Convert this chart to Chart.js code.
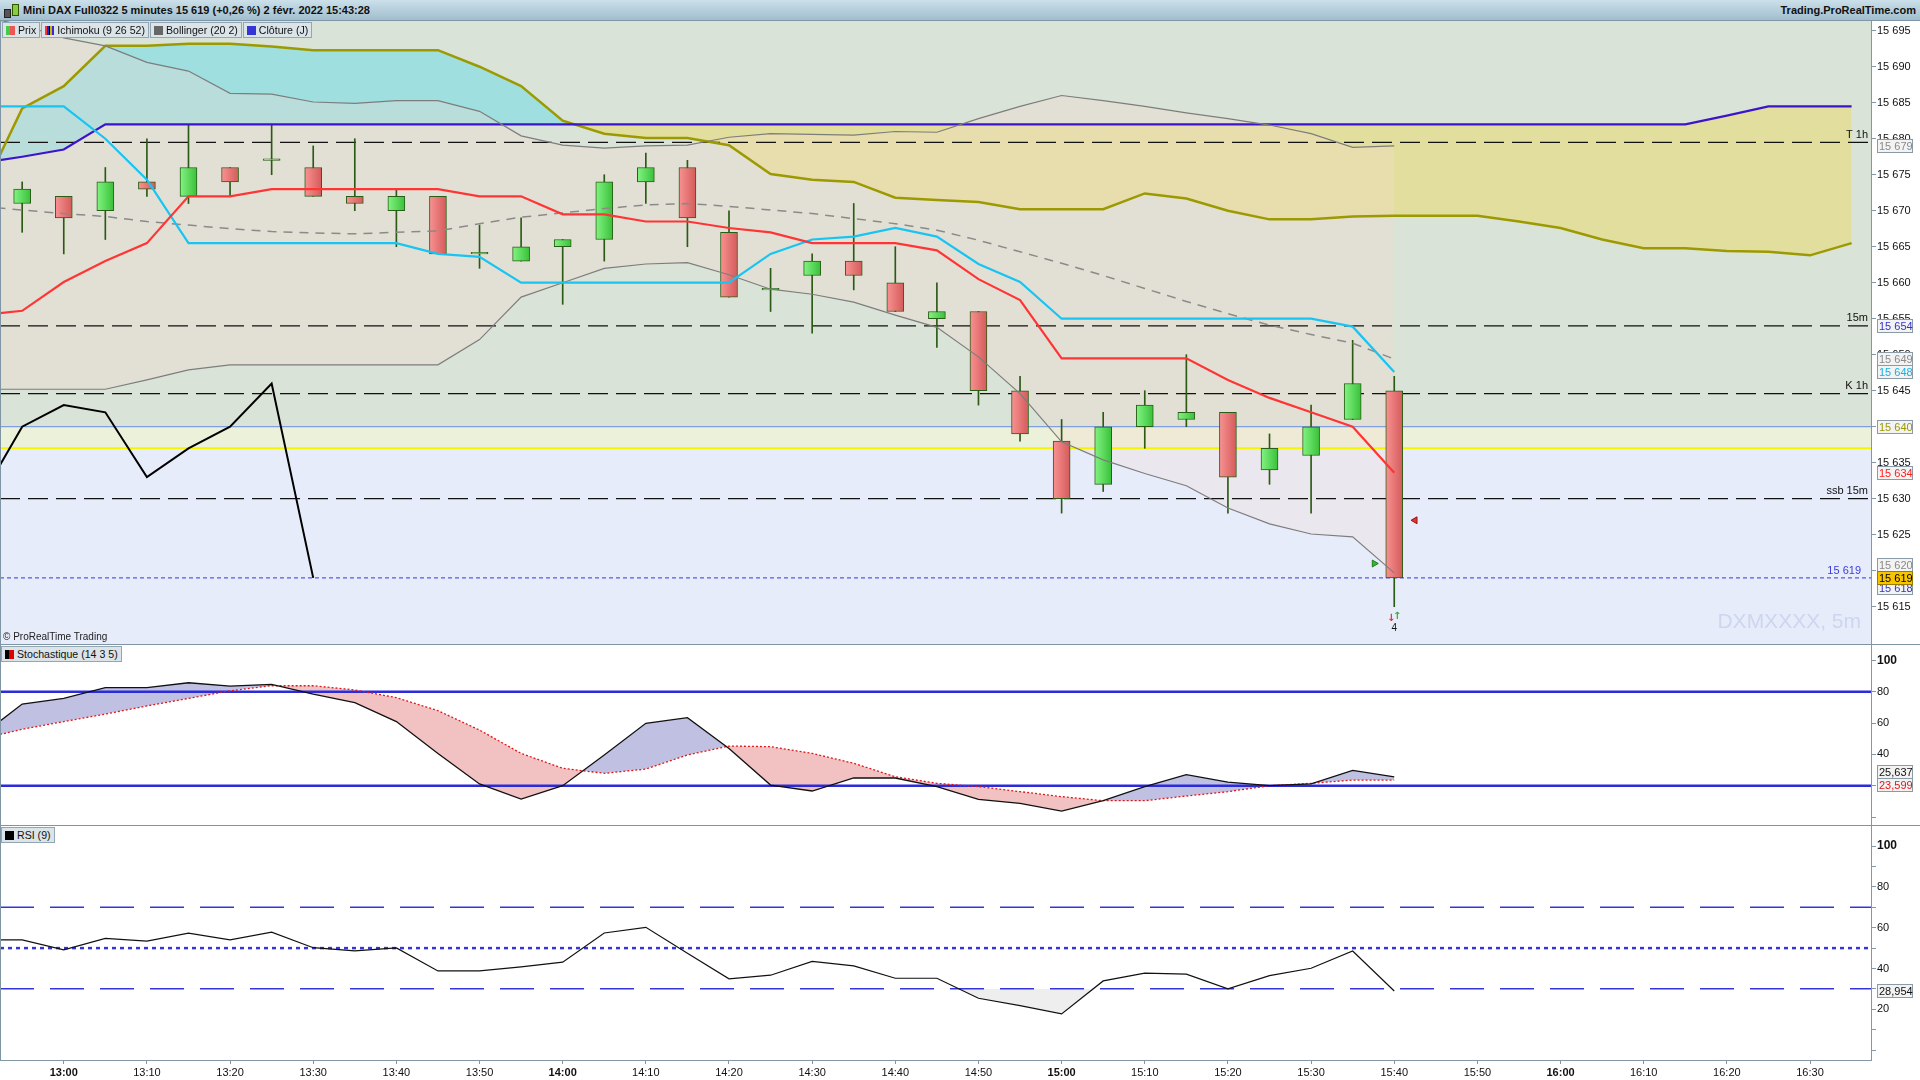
<!DOCTYPE html>
<html lang="fr">
<head>
<meta charset="utf-8">
<title>Mini DAX Full0322 - 5 minutes</title>
<script src="https://cdn.jsdelivr.net/npm/chart.js@4.4.1/dist/chart.umd.min.js"></script>
<style>
  html, body { margin: 0; padding: 0; background: #fff; }
  body { width: 1920px; height: 1080px; position: relative; overflow: hidden;
         font-family: "Liberation Sans", Arial, sans-serif; color: #111; }
  canvas { position: absolute; left: 0; display: block; }
  #header { position: absolute; left: 0; top: 0; width: 1920px; height: 21px;
            background: linear-gradient(#cbe0ea, #a1bece); border-bottom: 1px solid #7d97a7;
            box-sizing: border-box; font-size: 11px; font-weight: bold; line-height: 20px; }
  #header .title { position: absolute; left: 23px; top: 0; }
  #header .site { position: absolute; right: 4px; top: 0; }
  .ico { position: absolute; }
  .tags { position: absolute; left: 2px; top: 22px; display: flex; gap: 1px; }
  .tag { position: relative; height: 16px; line-height: 15px; font-size: 10.6px; background: #dbe4e9;
         border: 1px solid #93a6b3; box-sizing: border-box; padding: 0 3px 0 15px; white-space: nowrap; }
  .tag i { position: absolute; left: 3px; top: 3px; width: 9px; height: 9px; }
  .sep { position: absolute; left: 0; width: 1920px; height: 1px; background: #7f95a4; }
  .vsep { position: absolute; top: 21px; width: 1px; height: 1039px; background: #7f95a4; }
  #wm { position: absolute; right: 59px; top: 609px; font-size: 21px; color: #cdd6ee; }
  #copy { position: absolute; left: 3px; top: 631px; font-size: 10px; color: #222; }
</style>
</head>
<body>
<canvas id="price" width="1920" height="623" style="top:21px"></canvas>
<canvas id="stoch" width="1920" height="180" style="top:645px"></canvas>
<canvas id="rsi" width="1920" height="254" style="top:826px"></canvas>

<div id="header">
  <div class="ico" style="left:4px;top:9px;width:5px;height:7px;background:#555;border:1px solid #222"></div>
  <div class="ico" style="left:12px;top:4px;width:5px;height:10px;background:#8c4;border:1px solid #350"></div>
  <span class="title">Mini DAX Full0322 5 minutes 15 619 (+0,26 %) 2 févr. 2022 15:43:28</span>
  <span class="site">Trading.ProRealTime.com</span>
</div>
<div class="vsep" style="left:0"></div>
<div class="tags">
  <div class="tag"><i style="background:linear-gradient(90deg,#44cc44 50%,#ee5555 50%)"></i>Prix</div>
  <div class="tag"><i style="background:linear-gradient(90deg,#ff3333 0 20%,#1133cc 20% 40%,#000 40% 60%,#c9b800 60% 80%,#4422cc 80%)"></i>Ichimoku (9 26 52)</div>
  <div class="tag"><i style="background:#666"></i>Bollinger (20 2)</div>
  <div class="tag"><i style="background:#3535d8"></i>Clôture (J)</div>
</div>
<div id="wm">DXMXXXX, 5m</div>
<div id="copy">© ProRealTime Trading</div>
<div class="sep" style="top:644px"></div>
<div class="tags" style="top:646px;left:1px">
  <div class="tag"><i style="background:linear-gradient(90deg,#000 50%,#dd0000 50%)"></i>Stochastique (14 3 5)</div>
</div>
<div class="sep" style="top:825px"></div>
<div class="tags" style="top:827px;left:1px">
  <div class="tag"><i style="background:#000"></i>RSI (9)</div>
</div>

<script>
// ---------- data ----------
const times = ['12:50','12:55','13:00','13:05','13:10','13:15','13:20','13:25','13:30','13:35','13:40',
  '13:45','13:50','13:55','14:00','14:05','14:10','14:15','14:20','14:25','14:30','14:35','14:40',
  '14:45','14:50','14:55','15:00','15:05','15:10','15:15','15:20','15:25','15:30','15:35','15:40'];
const futureTimes = ['15:45','15:50','15:55','16:00','16:05','16:10','16:15','16:20','16:25','16:30','16:35'];

const opens  = [null, 15671, 15672, 15670, 15674, 15672, 15676, 15677, 15676, 15672, 15670, 15672, 15664,
  15663, 15665, 15666, 15674, 15676, 15667, 15659, 15661, 15663, 15660, 15655, 15656, 15645, 15638,
  15632, 15640, 15641, 15642, 15634, 15636, 15641, 15645];
const highs  = [null, 15674, 15672, 15676, 15680, 15682, 15676, 15682, 15679, 15680, 15673, 15672, 15668,
  15669, 15666, 15675, 15678, 15677, 15670, 15662, 15664, 15671, 15665, 15660, 15656, 15647, 15641,
  15642, 15645, 15650, 15642, 15639, 15643, 15652, 15647];
const lows   = [null, 15667, 15664, 15666, 15672, 15671, 15672, 15675, 15672, 15670, 15665, 15664, 15662,
  15663, 15657, 15663, 15671, 15665, 15658, 15656, 15653, 15659, 15656, 15651, 15643, 15638, 15628,
  15631, 15637, 15640, 15628, 15632, 15628, 15641, 15615];
const closes = [null, 15673, 15669, 15674, 15673, 15676, 15674, 15677, 15672, 15671, 15672, 15664, 15664,
  15665, 15666, 15674, 15676, 15669, 15658, 15659, 15663, 15661, 15656, 15656, 15645, 15639, 15630,
  15640, 15643, 15642, 15633, 15637, 15640, 15646, 15619];

const tenkan = [15655.5, 15656.1, 15660.1, 15663, 15665.5, 15672, 15672, 15673, 15673, 15673, 15673, 15673,
  15672, 15672, 15669.5, 15669.5, 15668.5, 15668.5, 15667.6, 15667, 15665.5, 15665.5, 15665.5, 15664.5,
  15660.5, 15657.6, 15649.5, 15649.5, 15649.5, 15649.5, 15646.5, 15644, 15642, 15640, 15633.6];
const kijun = [15684.5, 15684.5, 15684.5, 15680, 15674.3, 15665.5, 15665.5, 15665.5, 15665.5, 15665.5,
  15665.5, 15664, 15663.6, 15660, 15660, 15660, 15660, 15660, 15660, 15664, 15666, 15666.4, 15667.6,
  15666.4, 15662.6, 15660.1, 15655, 15655, 15655, 15655, 15655, 15655, 15655, 15653.9, 15647.6];
const chikou = [15630, 15640, 15643, 15642, 15633, 15637, 15640, 15646, 15619];
// senkou spans run 26 bars ahead: times + futureTimes
const senkouA = [15676.6, 15677.5, 15678.5, 15682, 15682, 15682, 15682, 15682, 15682, 15682, 15682, 15682,
  15682, 15682, 15682, 15682, 15682, 15682, 15682, 15682, 15682, 15682, 15682, 15682, 15682, 15682, 15682,
  15682, 15682, 15682, 15682, 15682, 15682, 15682, 15682, 15682, 15682, 15682, 15682, 15682, 15682, 15682,
  15683.2, 15684.5, 15684.5, 15684.5];
const senkouB = [15672.1, 15684.2, 15687.3, 15692.9, 15692.9, 15693.2, 15693.2, 15692.8, 15692.3, 15692.3,
  15692.3, 15692.3, 15690, 15687.3, 15682.5, 15680.7, 15680.1, 15680.1, 15679.1, 15675.1, 15674.3, 15674,
  15671.8, 15671.5, 15671.2, 15670.2, 15670.2, 15670.2, 15672.4, 15671.7, 15670, 15668.8, 15668.8, 15669.2,
  15669.3, 15669.3, 15669.3, 15668.5, 15667.6, 15666, 15664.8, 15664.8, 15664.4, 15664.3, 15663.8, 15665.5];

const bbUpper = [15697, 15695.8, 15694, 15692.9, 15690.6, 15689.4, 15686.3, 15686.2, 15685.1, 15684.9,
  15685.3, 15685.3, 15683.8, 15680.4, 15679.1, 15678.7, 15679, 15679.1, 15680.2, 15680.7, 15680.6, 15680.5,
  15681, 15680.9, 15682.8, 15684.5, 15686, 15685.3, 15684.5, 15683.6, 15682.8, 15681.9, 15680.7, 15678.8, 15679];
const bbMiddle = [15670.6, 15670.1, 15669.6, 15669.2, 15668.5, 15668, 15667.5, 15667.1, 15666.9, 15666.8,
  15667, 15667.2, 15668.2, 15669.1, 15669.7, 15670.3, 15670.8, 15671, 15670.6, 15670.1, 15669.6, 15668.9,
  15668.2, 15667.3, 15665.9, 15664.3, 15662.7, 15661, 15659.2, 15657.4, 15655.7, 15654.1, 15652.8, 15651.6, 15649.4];
const bbLower = [15645.2, 15645.2, 15645.2, 15645.2, 15646.5, 15647.9, 15648.6, 15648.6, 15648.6, 15648.6,
  15648.6, 15648.6, 15652.1, 15658, 15660, 15662, 15662.6, 15662.8, 15661.1, 15659.1, 15658.4, 15657.3,
  15655.5, 15653.8, 15649.7, 15644.6, 15637.9, 15635.4, 15633.5, 15631.8, 15628.7, 15626.5, 15625.1, 15624.7, 15619.7];

const stochK = [51.7, 72.1, 75.7, 82.6, 82.6, 85.7, 83.6, 84.7, 78.5, 73, 60.9, 40.6, 21.1, 11.5, 20, 39.6,
  59.8, 63.4, 43.8, 20.4, 16.6, 24.9, 24.9, 19.4, 11.3, 8.7, 3.8, 10.4, 19.4, 27, 22.3, 20, 21.1, 29.8, 25.637];
const stochD = [49.8, 56, 60.9, 65.7, 70.9, 75.7, 80.6, 83.8, 83.8, 81.1, 76.2, 67.9, 55.5, 40.6, 31.1, 27.9,
  30.6, 39.6, 45.3, 44.9, 40.6, 34.3, 25.7, 21.5, 19.4, 16.2, 13, 10.4, 10.4, 13.4, 16.2, 20, 21.5, 23.6, 23.599];
const rsi = [54, 54, 49.1, 54.8, 53.4, 57.3, 54, 57.8, 50.2, 48.6, 50.1, 38.8, 38.8, 40.8, 43.1, 57.4, 60.2,
  47.5, 34.9, 36.7, 43.5, 41.3, 35.2, 35.2, 25.4, 21.8, 17.7, 33.9, 37.7, 37.2, 30, 36.5, 40.1, 48.6, 28.954];

// horizontal levels
const levelValues = [15679.5, 15654, 15644.6, 15630];
const levelLabels = ['T 1h', '15m', 'K 1h', 'ssb 15m'];
const zoneLevels = [15640, 15637];
const lastClose = 15619;
const signalTimes = ['15:42:30', '15:37:36'];
const signalPrices = [15627, 15621];

// axis ticks and value tags
const priceTicks = [15615, 15620, 15625, 15630, 15635, 15640, 15645, 15650, 15655, 15660, 15665, 15670,
  15675, 15680, 15685, 15690, 15695];
const oscTicks = [0, 10, 20, 30, 40, 50, 60, 70, 80, 90, 100];
const oscLabels = [20, 40, 60, 80, 100];
const xTicks = ['13:00','13:10','13:20','13:30','13:40','13:50','14:00','14:10','14:20','14:30','14:40',
  '14:50','15:00','15:10','15:20','15:30','15:40','15:50','16:00','16:10','16:20','16:30'];
const priceTagValues = [15679, 15654, 15649.4, 15647.6, 15640, 15633.6, 15619.7, 15617.6, 15619];
const stochLevels = [80, 20];
const rsiLevels = [70, 50, 30];

// ---------- helpers ----------
const FONT = '"Liberation Sans", Arial, sans-serif';
const AXIS_GREY = '#8497a5';
function toMin(t) { const p = t.split(':').map(Number); return p[0] * 60 + p[1] + (p[2] || 0) / 60; }
function fmtPrice(v) { return String(Math.round(v)).replace(/\B(?=(\d{3})+(?!\d))/g, ' '); }
function fmtDec(v) { return v.toFixed(3).replace('.', ','); }
const X_MIN = toMin('12:52:20'), X_MAX = toMin('16:37:20');

function series(ts, ys) {
  return ys.map((v, i) => ({ x: toMin(ts[i]), y: v })).filter(p => p.y !== null && p.y !== undefined);
}
function line(data, color, width, extra) {
  return Object.assign({ type: 'line', data, borderColor: color, borderWidth: width, pointRadius: 0,
    tension: 0, fill: false }, extra || {});
}
function hLine(v, color, width, dash, order) {
  return line([{ x: X_MIN, y: v }, { x: X_MAX, y: v }], color, width, { borderDash: dash || [], order: order || 40 });
}

function xScale(show) {
  return {
    type: 'linear', min: X_MIN, max: X_MAX, offset: false, display: show,
    afterBuildTicks: s => { s.ticks = xTicks.map(t => ({ value: toMin(t) })); },
    afterFit: s => { if (show) s.height = 20; s.paddingLeft = 0; s.paddingRight = 0; },
    grid: { drawOnChartArea: false, tickLength: 4, color: AXIS_GREY },
    border: { color: AXIS_GREY },
    ticks: {
      autoSkip: false, maxRotation: 0, padding: 2, color: '#111',
      font: c => ({ family: FONT, size: 11, weight: c.tick && c.tick.value % 60 === 0 ? 'bold' : 'normal' }),
      callback: v => Math.floor(v / 60) + ':' + String(Math.round(v % 60)).padStart(2, '0')
    }
  };
}
function yScale(min, max, ticks, labelFn) {
  return {
    position: 'right', min, max,
    afterBuildTicks: s => { s.ticks = ticks.map(v => ({ value: v })); },
    afterFit: s => { s.width = 49; s.paddingTop = 0; s.paddingBottom = 0; },
    grid: { drawOnChartArea: false, tickLength: 5, color: AXIS_GREY },
    border: { color: AXIS_GREY },
    ticks: {
      padding: 1, color: '#111', callback: labelFn,
      font: c => (c.tick && c.tick.value === 100)
        ? { family: FONT, size: 12, weight: 'bold' } : { family: FONT, size: 11 }
    }
  };
}
function baseOptions(scales) {
  return {
    responsive: false, animation: false, devicePixelRatio: 1, events: [],
    layout: { padding: 0, autoPadding: false }, scales,
    plugins: { legend: { display: false }, tooltip: { enabled: false },
      filler: { propagate: false, drawTime: 'beforeDatasetsDraw' } }
  };
}

// value tags on the right axis, pushed apart when they overlap
function drawTags(chart, items) {
  const { ctx, chartArea: a, scales: { y } } = chart;
  const H = 14, GAP = 13;
  const list = items.map(it => Object.assign({}, it, { py: y.getPixelForValue(it.value) }))
    .sort((p, q) => p.py - q.py);
  const movable = list.filter(b => !b.pinned);
  for (let k = 0; k < 20; k++) {
    for (let i = 1; i < movable.length; i++) {
      const d = movable[i].py - movable[i - 1].py;
      if (d < GAP) {
        const o = GAP - d;
        if (movable[i - 1].main) movable[i].py += o;
        else if (movable[i].main) movable[i - 1].py -= o;
        else { movable[i - 1].py -= o / 2; movable[i].py += o / 2; }
      }
    }
  }
  ctx.save();
  ctx.font = '11px ' + FONT;
  ctx.textBaseline = 'middle';
  list.filter(b => !b.main).concat(list.filter(b => b.main)).forEach(b => {
    const x0 = a.right + 6, w = 36, top = Math.round(b.py - H / 2);
    ctx.fillStyle = b.bg || '#f3f3f3';
    ctx.fillRect(x0, top, w, H);
    ctx.strokeStyle = b.border || '#8a9aa6';
    ctx.lineWidth = 1;
    ctx.strokeRect(x0 + 0.5, top + 0.5, w - 1, H - 1);
    ctx.fillStyle = b.color;
    ctx.fillText(b.text, x0 + 2, top + H / 2 + 0.5);
  });
  ctx.restore();
}

// ---------- price panel ----------
const bodies = [], wicks = [];
times.forEach((t, i) => {
  if (opens[i] === null) return;
  bodies.push({ x: toMin(t), y: [opens[i], closes[i]], up: closes[i] >= opens[i] });
  wicks.push({ x: toMin(t), y: [lows[i], highs[i]] });
});
function bodyColor(c) {
  if (c.type !== 'data') return '#888';
  const b = bodies[c.dataIndex];
  const flat = b.up ? '#56d856' : '#ea7676';
  const xs = c.chart.scales.x;
  if (!xs) return flat;
  const px = xs.getPixelForValue(b.x);
  if (!isFinite(px)) return flat;
  const g = c.chart.ctx.createLinearGradient(px - 8, 0, px + 8, 0);
  if (b.up) { g.addColorStop(0, '#80f280'); g.addColorStop(1, '#3bc23b'); }
  else { g.addColorStop(0, '#f89090'); g.addColorStop(1, '#d55c5c'); }
  return g;
}

const cloudTimes = times.concat(futureTimes);
const pd = [];
const push = ds => { pd.push(ds); return pd.length - 1; };
levelValues.forEach(v => push(hLine(v, '#111', 1.3, [20, 8])));
push(hLine(zoneLevels[0], '#7f9fe0', 1.3));
push(hLine(zoneLevels[1], '#f5f500', 2));
push(hLine(lastClose, '#3535e0', 1, [4, 3]));
push({ type: 'bar', data: wicks, backgroundColor: '#2b5a14', barThickness: 1, grouped: false, order: 39 });
push({ type: 'bar', data: bodies, backgroundColor: bodyColor, borderColor: '#2a5e16', borderWidth: 1,
  borderSkipped: false, barThickness: 17, minBarLength: 1.5, grouped: false, order: 38 });
const iA = push(line(series(cloudTimes, senkouA), '#3c14cc', 2.2, { order: 30 }));
push(line(series(cloudTimes, senkouB), '#9c9a00', 2.5, { order: 31,
  fill: { target: iA, above: 'rgba(120,220,228,0.6)', below: 'rgba(232,220,120,0.6)' } }));
const iL = push(line(series(times, bbLower), '#7d7d7d', 1.2, { order: 29 }));
push(line(series(times, bbUpper), '#7d7d7d', 1.2, { order: 28,
  fill: { target: iL, above: 'rgba(245,217,207,0.3)', below: 'rgba(245,217,207,0.3)' } }));
push(line(series(times, bbMiddle), '#8a8a8a', 1.5, { borderDash: [9, 7], order: 27 }));
push(line(series(times, chikou), '#000', 2, { order: 22 }));
push(line(series(times, kijun), '#17c4f2', 2.2, { order: 21 }));
push(line(series(times, tenkan), '#ff3535', 2.2, { order: 20 }));
push({ type: 'line', data: series(signalTimes, signalPrices), showLine: false, pointStyle: 'triangle',
  pointRadius: 4, pointRotation: [-90, 90], pointBackgroundColor: ['#e03535', '#35b535'],
  pointBorderColor: ['#a01010', '#208020'], pointBorderWidth: 1, order: 10 });

const zonesPlugin = {
  id: 'zones',
  beforeDraw(chart) {
    const { ctx, chartArea: a, scales: { y } } = chart;
    const y1 = y.getPixelForValue(zoneLevels[0]), y2 = y.getPixelForValue(zoneLevels[1]);
    ctx.save();
    ctx.fillStyle = '#dae3d7'; ctx.fillRect(a.left, a.top, a.width, y1 - a.top);
    ctx.fillStyle = '#ecf1d9'; ctx.fillRect(a.left, y1, a.width, y2 - y1);
    ctx.fillStyle = '#e7ecfb'; ctx.fillRect(a.left, y2, a.width, a.bottom - y2);
    ctx.restore();
  }
};
const priceNotes = {
  id: 'priceNotes',
  afterDatasetsDraw(chart) {
    const { ctx, chartArea: a, scales: { x, y } } = chart;
    ctx.save();
    ctx.font = '11px ' + FONT;
    ctx.textAlign = 'right';
    ctx.textBaseline = 'bottom';
    ctx.fillStyle = '#111';
    levelValues.forEach((v, i) => ctx.fillText(levelLabels[i], a.right - 3, y.getPixelForValue(v) - 2));
    ctx.fillStyle = '#3b3bdd';
    ctx.fillText(fmtPrice(lastClose), a.right - 10, y.getPixelForValue(lastClose) - 1);
    const last = times.length - 1;
    const px = x.getPixelForValue(toMin(times[last])), py = y.getPixelForValue(lows[last]);
    ctx.textAlign = 'center';
    ctx.font = 'bold 10px "DejaVu Sans", sans-serif';
    ctx.fillStyle = '#e03030'; ctx.fillText('↓', px - 3, py + 17);
    ctx.fillStyle = '#2fb02f'; ctx.fillText('↑', px + 3, py + 15);
    ctx.font = '10px ' + FONT;
    ctx.fillStyle = '#111'; ctx.fillText('4', px, py + 27);
    ctx.restore();
  },
  afterDraw(chart) {
    const colors = ['#8a8a8a', '#3333cc', '#8a8a8a', '#12b4e6', '#9c9a00', '#ff2020', '#8a8a8a', '#3333cc', '#000'];
    drawTags(chart, priceTagValues.map((v, i) => ({
      value: v, text: fmtPrice(v), color: colors[i], main: v === lastClose, pinned: i === 7,
      bg: v === lastClose ? '#f7c500' : null, border: v === lastClose ? '#9a7a00' : null
    })));
  }
};

new Chart(document.getElementById('price'), {
  type: 'line',
  data: { datasets: pd },
  options: baseOptions({ x: xScale(false), y: yScale(15609.82, 15696.35, priceTicks, v => fmtPrice(v)) }),
  plugins: [zonesPlugin, priceNotes]
});

// ---------- stochastic panel ----------
const sd = [];
stochLevels.forEach(v => sd.push(hLine(v, '#2b2bd9', 2.5, [], 5)));
sd.push(line(series(times, stochD), '#e01818', 1.3, { borderDash: [2, 2], order: 3 }));
sd.push(line(series(times, stochK), '#111', 1.3, { order: 2,
  fill: { target: stochLevels.length, above: '#c0c1e2', below: '#f2c1c1' } }));

new Chart(document.getElementById('stoch'), {
  type: 'line',
  data: { datasets: sd },
  options: baseOptions({ x: xScale(false),
    y: yScale(-5.1, 109.8, oscTicks, v => oscLabels.includes(v) ? String(v) : '') }),
  plugins: [{
    id: 'stochTags',
    afterDraw(chart) {
      drawTags(chart, [
        { value: stochK[stochK.length - 1], text: fmtDec(stochK[stochK.length - 1]), color: '#111' },
        { value: stochD[stochD.length - 1], text: fmtDec(stochD[stochD.length - 1]), color: '#e01818' }
      ]);
    }
  }]
});

// ---------- RSI panel ----------
const rd = [];
rd.push(hLine(rsiLevels[0], '#3535dd', 1.5, [34, 16], 5));
rd.push(hLine(rsiLevels[1], '#3535dd', 2.5, [4, 4], 5));
rd.push(hLine(rsiLevels[2], '#3535dd', 1.5, [34, 16], 5));
rd.push(line(series(times, rsi), '#111', 1.2, { order: 2,
  fill: { target: { value: rsiLevels[2] }, above: 'rgba(0,0,0,0)', below: '#eeeeee' } }));

new Chart(document.getElementById('rsi'), {
  type: 'line',
  data: { datasets: rd },
  options: baseOptions({ x: xScale(true),
    y: yScale(-4.9, 109.9, oscTicks, v => oscLabels.includes(v) ? String(v) : '') }),
  plugins: [{
    id: 'rsiTags',
    afterDraw(chart) {
      drawTags(chart, [{ value: rsi[rsi.length - 1], text: fmtDec(rsi[rsi.length - 1]), color: '#111' }]);
    }
  }]
});
</script>
</body>
</html>
